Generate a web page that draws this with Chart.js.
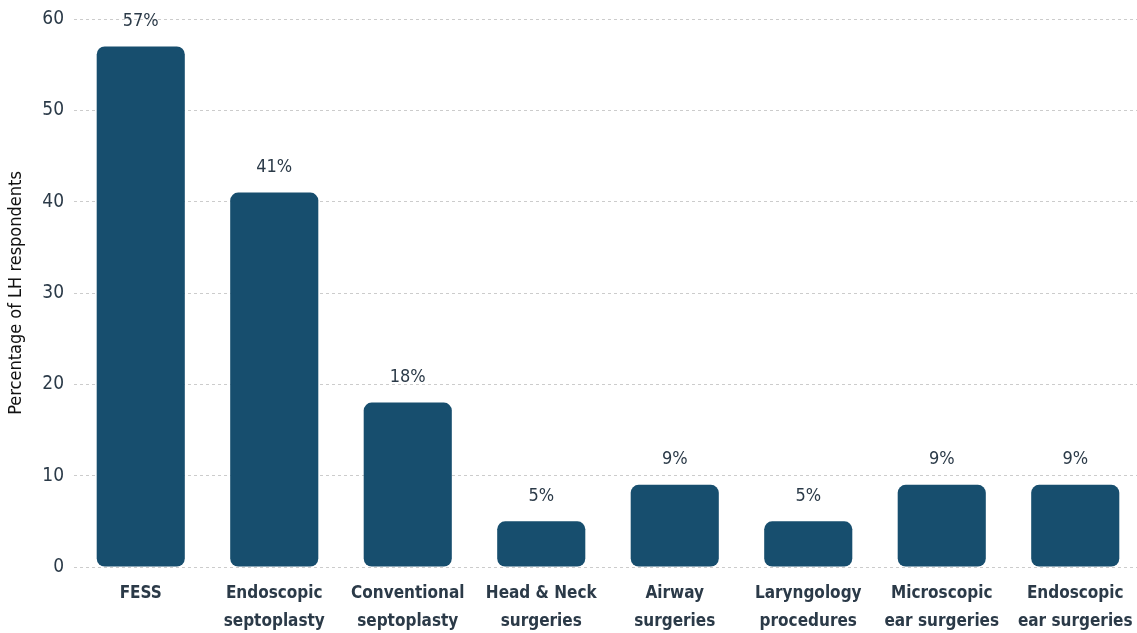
<!DOCTYPE html>
<html>
<head>
<meta charset="utf-8">
<script src="https://cdn.jsdelivr.net/npm/chart.js@4"></script>
<style>
  body { margin: 0; background: #fff; overflow: hidden; }
  #wrap { width: 1142px; height: 633px; position: relative; }
</style>
</head>
<body>
<div id="wrap"><canvas id="myChart"></canvas></div>
<script>
const categories = [
  ['FESS'],
  ['Endoscopic', 'septoplasty'],
  ['Conventional', 'septoplasty'],
  ['Head & Neck', 'surgeries'],
  ['Airway', 'surgeries'],
  ['Laryngology', 'procedures'],
  ['Microscopic', 'ear surgeries'],
  ['Endoscopic', 'ear surgeries']
]
const percentages = [57, 41, 18, 5, 9, 5, 9, 9]
const yTicks = [0, 10, 20, 30, 40, 50, 60]

const fontFamily = '"DejaVu Sans Condensed", Roboto, sans-serif'
const textColor = '#2b3a48'

// labels above each bar, e.g. "57%"
const barLabels = {
  id: 'barLabels',
  afterDatasetsDraw(chart) {
    const ctx = chart.ctx
    const meta = chart.getDatasetMeta(0)
    ctx.save()
    ctx.font = '18px ' + fontFamily
    ctx.fillStyle = textColor
    ctx.textAlign = 'center'
    ctx.textBaseline = 'middle'
    meta.data.forEach((bar, i) => {
      ctx.fillText(percentages[i] + '%', bar.x, bar.y - 25)
    })
    ctx.restore()
  }
}

const dataConfig = {
  labels: categories,
  datasets: [{
    data: percentages,
    backgroundColor: '#174e6e',
    borderRadius: 8,
    borderSkipped: false,
    barPercentage: 0.66,
    categoryPercentage: 1
  }]
}

const config = {
  type: 'bar',
  data: dataConfig,
  plugins: [barLabels],
  options: {
    responsive: true,
    maintainAspectRatio: false,
    animation: false,
    layout: { padding: { top: 19, right: 0, bottom: 0, left: 6 } },
    plugins: {
      legend: { display: false },
      tooltip: { enabled: false }
    },
    scales: {
      x: {
        grid: { display: false },
        border: { display: false },
        afterFit: (scale) => {
          scale.height = 66
          scale.paddingLeft = 0
          scale.paddingRight = 0
        },
        ticks: {
          color: textColor,
          font: { family: fontFamily, size: 17, weight: 'bold', lineHeight: 1.65 },
          padding: 5,
          maxRotation: 0
        }
      },
      y: {
        min: 0,
        max: 60,
        afterBuildTicks: (scale) => { scale.ticks = yTicks.map(v => ({ value: v })) },
        afterFit: (scale) => {
          scale.width = 68
          scale.paddingTop = 0
          scale.paddingBottom = 0
        },
        grid: { color: '#cccccc', drawTicks: false },
        border: { display: false, dash: [3, 3] },
        ticks: {
          color: textColor,
          font: { family: fontFamily, size: 19 },
          padding: 10
        },
        title: {
          display: true,
          text: 'Percentage of LH respondents',
          color: '#111',
          font: { family: fontFamily, size: 18 },
          padding: { top: 0, bottom: 6 }
        }
      }
    }
  }
}

const myChart = new Chart(document.getElementById('myChart'), config)
</script>
</body>
</html>
